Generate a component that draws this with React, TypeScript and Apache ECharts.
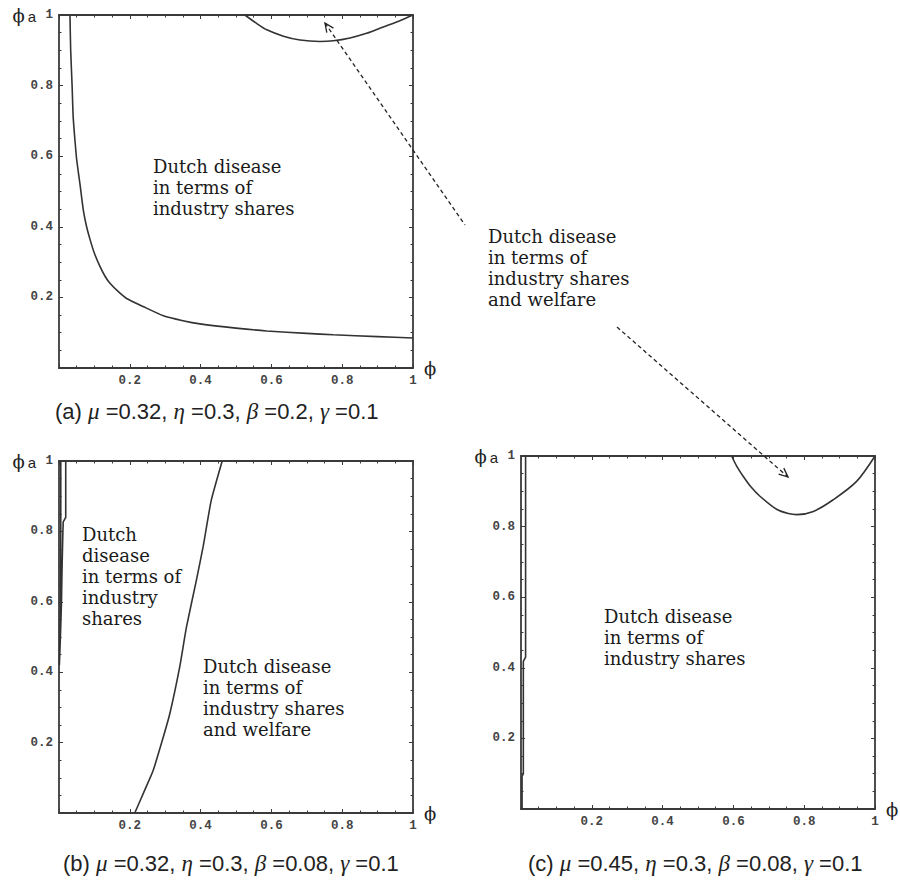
import React, { useEffect, useRef } from "react";
import * as echarts from "echarts";

// Panel (a): mu=0.32, eta=0.3, beta=0.2, gamma=0.1
const curveA1: [number, number][] = [
  [0.031, 1.0], [0.033, 0.9], [0.037, 0.8], [0.04, 0.712], [0.045, 0.646], [0.05, 0.59],
  [0.059, 0.523], [0.069, 0.445], [0.078, 0.4], [0.088, 0.363], [0.1, 0.325], [0.116, 0.287],
  [0.13, 0.26], [0.144, 0.24], [0.17, 0.214], [0.191, 0.197], [0.238, 0.174], [0.295, 0.148],
  [0.35, 0.134], [0.398, 0.125], [0.5, 0.113], [0.587, 0.105], [0.7, 0.098], [0.775, 0.094],
  [0.9, 0.089], [1.0, 0.085],
];
const curveA2: [number, number][] = [
  [0.525, 1.0], [0.56, 0.975], [0.587, 0.958], [0.634, 0.94], [0.681, 0.929], [0.737, 0.925],
  [0.775, 0.927], [0.822, 0.935], [0.869, 0.948], [0.916, 0.966], [0.963, 0.984], [1.0, 1.0],
];

// Panel (b): mu=0.32, eta=0.3, beta=0.08, gamma=0.1
const curveB1: [number, number][] = [
  [0.005, 1.0], [0.005, 0.8], [0.004, 0.6], [0.002, 0.45], [0.001, 0.42],
  [0.004, 0.5], [0.007, 0.6], [0.0085, 0.69], [0.011, 0.8], [0.012, 0.827],
  [0.019, 0.84], [0.019, 1.0],
];
const curveB2: [number, number][] = [
  [0.214, 0.0], [0.24, 0.06], [0.266, 0.121], [0.29, 0.2], [0.313, 0.282], [0.341, 0.415],
  [0.36, 0.528], [0.388, 0.661], [0.407, 0.756], [0.43, 0.888], [0.461, 1.0],
];

// Panel (c): mu=0.45, eta=0.3, beta=0.08, gamma=0.1
const curveC1: [number, number][] = [
  [0.003, 0.0], [0.003, 0.092], [0.0066, 0.1], [0.0066, 0.418], [0.013, 0.43], [0.013, 1.0],
];
const curveC2: [number, number][] = [
  [0.595, 1.0], [0.61, 0.97], [0.628, 0.942], [0.65, 0.912], [0.675, 0.886], [0.722, 0.849],
  [0.755, 0.837], [0.779, 0.834], [0.826, 0.843], [0.882, 0.876], [0.948, 0.928], [1.0, 1.0],
];

const captionsText = [
  "(a) {g|μ} =0.32, {g|η} =0.3, {g|β} =0.2, {g|γ} =0.1",
  "(b) {g|μ} =0.32, {g|η} =0.3, {g|β} =0.08, {g|γ} =0.1",
  "(c) {g|μ} =0.45, {g|η} =0.3, {g|β} =0.08, {g|γ} =0.1",
];

const regionLabels = [
  "Dutch disease\nin terms of\nindustry shares",
  "Dutch\ndisease\nin terms of\nindustry\nshares",
  "Dutch disease\nin terms of\nindustry shares\nand welfare",
  "Dutch disease\nin terms of\nindustry shares",
  "Dutch disease\nin terms of\nindustry shares\nand welfare",
];

const AXIS_COLOR = "#3a3a3a";
const LINE_COLOR = "#333";

const tickLabelStyle = {
  show: true,
  margin: 6,
  formatter: (v: number) => (v === 0 ? "" : String(v)),
  fontFamily: "Liberation Mono",
  fontWeight: "bold",
  fontSize: 12.5,
  color: "#444",
};

function commonAxis(gridIndex: number) {
  return {
    type: "value" as const,
    gridIndex,
    min: 0,
    max: 1,
    interval: 0.2,
    splitLine: { show: false },
    axisLine: { show: true, onZero: false, lineStyle: { color: AXIS_COLOR, width: 1.8 } },
    axisTick: { show: true, inside: true, length: 4, lineStyle: { color: AXIS_COLOR, width: 1 } },
    minorTick: { show: true, splitNumber: 4, length: 2.5, lineStyle: { color: AXIS_COLOR, width: 1 } },
  };
}

function xAxes(gridIndex: number) {
  const common = commonAxis(gridIndex);
  return [
    {
      ...common,
      position: "bottom",
      axisLabel: tickLabelStyle,
      name: "ϕ",
      nameLocation: "end",
      nameGap: 11,
      nameTextStyle: { fontFamily: "DejaVu Serif", fontSize: 18, color: "#222", verticalAlign: "middle" },
    },
    { ...common, position: "top", axisLabel: { show: false } },
  ];
}

function yAxes(gridIndex: number) {
  const common = commonAxis(gridIndex);
  return [
    {
      ...common,
      position: "left",
      axisLabel: tickLabelStyle,
      name: "{p|ϕ}{a|a}",
      nameLocation: "end",
      nameGap: 0,
      nameTextStyle: {
        align: "right",
        verticalAlign: "middle",
        padding: [0, 23, 0, 0],
        rich: {
          p: { fontFamily: "DejaVu Serif", fontSize: 18, color: "#222" },
          a: { fontFamily: "Liberation Sans", fontSize: 15, color: "#222", padding: [2, 0, 0, 3] },
        },
      },
    },
    { ...common, position: "right", axisLabel: { show: false } },
  ];
}

function lineSeries(data: [number, number][], panel: number, smooth: number | boolean) {
  return {
    type: "line",
    xAxisIndex: panel * 2,
    yAxisIndex: panel * 2,
    data,
    showSymbol: false,
    symbol: "none",
    smooth,
    lineStyle: { color: LINE_COLOR, width: 1.6 },
    z: 3,
  };
}

const textStyle = {
  fontFamily: "DejaVu Serif",
  fontSize: 18,
  lineHeight: 21,
  fill: "#1a1a1a",
};

function regionText(text: string, x: number, y: number) {
  return { type: "text", x, y, z: 10, style: { ...textStyle, text, verticalAlign: "top" } };
}

function caption(text: string, x: number, y: number) {
  return {
    type: "text",
    x,
    y,
    z: 10,
    style: {
      text,
      fontFamily: "Liberation Sans",
      fontSize: 22,
      fill: "#222",
      verticalAlign: "middle",
      rich: {
        g: { fontFamily: "Liberation Serif", fontStyle: "italic", fontSize: 23, fill: "#222" },
      },
    },
  };
}

const dashStyle = { stroke: "#222", lineWidth: 1.3, lineDash: [4, 3] };

export default function App() {
  const ref = useRef<HTMLDivElement>(null);
  useEffect(() => {
    if (!ref.current) return;
    const chart = echarts.init(ref.current, undefined, { renderer: "svg" });
    const option = {
      animation: false,
      backgroundColor: "#fff",
      grid: [
        { left: 59, top: 15, width: 354, height: 353 },
        { left: 59, top: 461, width: 354, height: 352 },
        { left: 521, top: 456, width: 354, height: 353 },
      ],
      xAxis: [...xAxes(0), ...xAxes(1), ...xAxes(2)],
      yAxis: [...yAxes(0), ...yAxes(1), ...yAxes(2)],
      series: [
        lineSeries(curveA1, 0, 0.2),
        lineSeries(curveA2, 0, 0.3),
        lineSeries(curveB1, 1, false),
        lineSeries(curveB2, 1, 0.15),
        lineSeries(curveC1, 2, false),
        lineSeries(curveC2, 2, 0.3),
      ],
      graphic: [
        regionText(regionLabels[0], 153, 156),
        regionText(regionLabels[1], 82, 524),
        regionText(regionLabels[2], 203, 656),
        regionText(regionLabels[3], 604, 606),
        regionText(regionLabels[4], 488, 226),
        caption(captionsText[0], 55, 411),
        caption(captionsText[1], 63, 863),
        caption(captionsText[2], 528, 863),
        { type: "line", z: 10, shape: { x1: 325, y1: 23, x2: 465, y2: 225 }, style: dashStyle },
        {
          type: "polyline",
          z: 10,
          shape: { points: [[326.8, 32.7], [325, 23], [333.4, 28.1]] },
          style: { stroke: "#222", lineWidth: 1.3, fill: null },
        },
        { type: "line", z: 10, shape: { x1: 617, y1: 327, x2: 788, y2: 477 }, style: dashStyle },
        {
          type: "polyline",
          z: 10,
          shape: { points: [[783.8, 468.1], [788, 477], [778.6, 474.1]] },
          style: { stroke: "#222", lineWidth: 1.3, fill: null },
        },
      ],
    };
    chart.setOption(option as any);
    return () => chart.dispose();
  }, []);
  return (
    <div
      ref={ref}
      style={{ position: "absolute", left: 0, top: 0, width: 900, height: 882 }}
    />
  );
}
